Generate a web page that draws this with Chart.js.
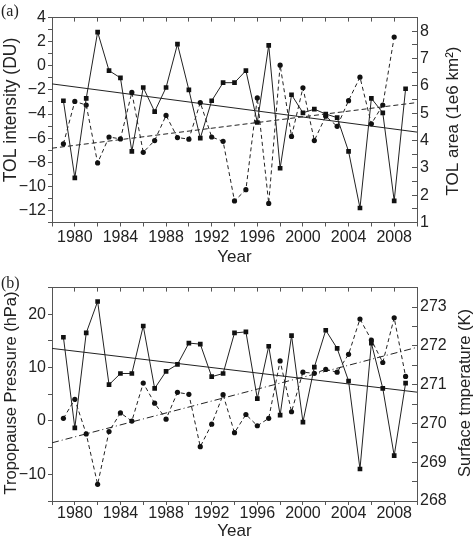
<!DOCTYPE html>
<html>
<head>
<meta charset="utf-8">
<script src="https://cdn.jsdelivr.net/npm/chart.js@4.4.0/dist/chart.umd.min.js"></script>
<style>
  body { margin: 0; background: #fff; width: 475px; height: 538px; position: relative; overflow: hidden; }
  .panel { position: absolute; left: 0; width: 475px; height: 270px; }
  #panelA { top: 0; }
  #panelB { top: 270px; }
  .tag { position: absolute; left: 1px; font: 16px "Liberation Serif", "Times New Roman", serif; line-height: 16px; color: #222; }
</style>
</head>
<body>
<div class="panel" id="panelA"><canvas id="chartA" width="475" height="270"></canvas></div>
<div class="panel" id="panelB"><canvas id="chartB" width="475" height="270"></canvas></div>
<div class="tag" style="top:3px">(a)</div>
<div class="tag" style="top:275px">(b)</div>
<script>
// years shared by both panels
const years = [1979, 1980, 1981, 1982, 1983, 1984, 1985, 1986, 1987, 1988, 1989, 1990, 1991, 1992, 1993, 1994,
               1995, 1996, 1997, 1998, 1999, 2000, 2001, 2002, 2003, 2004, 2005, 2006, 2007, 2008, 2009];

// (a) TOL intensity (DU), squares, left axis
const tolIntensity = [-2.9, -9.3, -2.7, 2.8, -0.4, -1.0, -7.1, -1.8, -3.8, -1.8, 1.8, -2.0, -6.0, -2.9, -1.4, -1.4,
                      -0.4, -4.7, 1.7, -8.5, -2.4, -3.9, -3.6, -4.0, -4.3, -7.1, -11.8, -2.7, -3.9, -11.2, -1.9];
// (a) TOL area (1e6 km2), circles, right axis (no value for 2009)
const tolArea = [3.88, 5.43, 5.30, 3.18, 4.13, 4.06, 5.76, 3.57, 4.00, 4.92, 4.11, 4.05, 5.39, 4.13, 3.97, 1.79,
                 2.20, 5.56, 1.70, 6.76, 4.15, 5.93, 4.00, 4.89, 4.52, 5.46, 6.32, 4.61, 5.30, 7.79, null];
// trend lines read at the plot edges
const trendYears = [1978, 2010];
const intensityTrend = [-1.5, -5.5];
const areaTrend = [3.72, 5.39];

// (b) tropopause pressure (hPa), squares, left axis
const tropPressure = [15.7, -1.3, 16.5, 22.4, 6.8, 8.9, 8.9, 17.8, 6.1, 9.3, 10.6, 14.6, 14.4, 8.3, 8.9, 16.5,
                      16.7, 4.2, 14.0, 1.1, 16.0, -0.2, 10.1, 17.0, 13.6, 7.5, -9.0, 14.6, 6.1, -6.5, 7.1];
// (b) surface temperature (K), circles, right axis
const surfTemp = [270.13, 270.62, 269.73, 268.43, 269.79, 270.27, 270.06, 271.04, 270.52, 270.11, 270.80, 270.75,
                  269.40, 269.98, 270.74, 269.76, 270.23, 269.94, 270.13, 271.61, 270.30, 271.32, 271.29, 271.39,
                  271.32, 271.78, 272.69, 272.15, 271.57, 272.72, 271.21];
const pressureTrend = [13.6, 5.4];
const tempTrend = [269.5, 271.96];

// labelled ticks
const yearTicks = [1980, 1984, 1988, 1992, 1996, 2000, 2004, 2008];
const intensityTicks = [-12, -10, -8, -6, -4, -2, 0, 2, 4];
const areaTicks = [1, 2, 3, 4, 5, 6, 7, 8];
const pressureTicks = [-10, 0, 10, 20];
const tempTicks = [268, 269, 270, 271, 272, 273];

const FONT = '"Liberation Sans", Arial, Helvetica, sans-serif';
const INK = '#222';
const AXIS = '#555';

// tick list with unlabelled minor ticks in between
function tickList(major, step, min, max) {
  const out = [];
  for (let v = min; v <= max + 1e-9; v += step) out.push({ value: Math.round(v * 1000) / 1000 });
  return out;
}
function fmt(major) {
  return v => major.includes(v) ? (v < 0 ? '\u2212' + Math.abs(v) : String(v)) : '';
}

// side titles, rotated to read bottom-to-top on both sides
const sideTitles = {
  id: 'sideTitles',
  afterDraw(chart, args, opts) {
    const { ctx } = chart;
    opts.items.forEach(t => {
      ctx.save();
      ctx.translate(t.x, t.y);
      ctx.rotate(-Math.PI / 2);
      ctx.font = t.size + 'px ' + FONT;
      ctx.fillStyle = INK;
      ctx.textAlign = 'center';
      ctx.textBaseline = 'middle';
      ctx.fillText(t.text, 0, 0);
      ctx.restore();
    });
  }
};

function pts(xs, ys) {
  return xs.map((x, i) => ({ x: x, y: ys[i] }));
}

function makeChart(id, cfg) {
  const xTickList = tickList(yearTicks, 2, 1978, 2010);
  return new Chart(document.getElementById(id), {
    type: 'line',
    data: {
      datasets: [
        { data: pts(years, cfg.sq), yAxisID: 'y', borderColor: INK, borderWidth: 1,
          pointStyle: 'rect', pointRadius: 3.3, pointBackgroundColor: '#111', pointBorderWidth: 0 },
        { data: pts(years, cfg.ci), yAxisID: 'y2', borderColor: INK, borderWidth: 1, borderDash: [4, 3],
          pointStyle: 'circle', pointRadius: 2.6, pointBackgroundColor: '#111', pointBorderWidth: 0 },
        { data: pts(trendYears, cfg.sqTrend), yAxisID: 'y', borderColor: INK, borderWidth: 1, pointRadius: 0 },
        { data: pts(trendYears, cfg.ciTrend), yAxisID: 'y2', borderColor: INK, borderWidth: 1,
          borderDash: cfg.ciDash, pointRadius: 0 }
      ]
    },
    options: {
      responsive: false,
      animation: false,
      events: [],
      layout: { padding: 0 },
      plugins: {
        legend: { display: false },
        tooltip: { enabled: false },
        sideTitles: { items: cfg.titles }
      },
      scales: {
        x: {
          type: 'linear', position: 'bottom', min: 1978, max: 2010,
          afterBuildTicks: s => { s.ticks = xTickList; },
          afterFit: s => { s.height = cfg.bottomH; },
          ticks: { callback: fmt(yearTicks), autoSkip: false, maxRotation: 0, padding: cfg.xPad,
                   color: INK, font: { family: FONT, size: 16 } },
          grid: { drawOnChartArea: false, tickLength: 4, color: AXIS },
          border: { color: AXIS, width: 1 },
          title: { display: true, text: 'Year', color: INK, font: { family: FONT, size: 17, lineHeight: 1 },
                   padding: { top: 0, bottom: cfg.yearPad } }
        },
        xTop: {
          type: 'linear', position: 'top', min: 1978, max: 2010,
          afterBuildTicks: s => { s.ticks = xTickList; },
          afterFit: s => { s.height = cfg.topH; },
          ticks: { display: false },
          grid: { drawOnChartArea: false, tickLength: -4, color: AXIS },
          border: { color: AXIS, width: 1 }
        },
        y: {
          position: 'left', min: cfg.yMin, max: cfg.yMax,
          afterBuildTicks: s => { s.ticks = tickList(cfg.yTicks, cfg.yStep, cfg.yMin, cfg.yMax); },
          afterFit: s => { s.width = 52; },
          ticks: { callback: fmt(cfg.yTicks), autoSkip: false, padding: 2, color: INK, font: { family: FONT, size: 16 } },
          grid: { drawOnChartArea: false, tickLength: 4, color: AXIS },
          border: { color: AXIS, width: 1 }
        },
        y2: {
          position: 'right', min: cfg.y2Min, max: cfg.y2Max,
          afterBuildTicks: s => { s.ticks = tickList(cfg.y2Ticks, 0.5, cfg.y2Min, cfg.y2Max); },
          afterFit: s => { s.width = 58; },
          ticks: { callback: fmt(cfg.y2Ticks), autoSkip: false, padding: 8, color: INK, font: { family: FONT, size: 16 } },
          grid: { drawOnChartArea: false, tickLength: -5, color: AXIS },
          border: { color: AXIS, width: 1 }
        }
      }
    },
    plugins: [sideTitles]
  });
}

makeChart('chartA', {
  sq: tolIntensity, ci: tolArea, sqTrend: intensityTrend, ciTrend: areaTrend, ciDash: [5, 3],
  yMin: -13, yMax: 4, yTicks: intensityTicks, yStep: 1,
  y2Min: 1, y2Max: 8.5, y2Ticks: areaTicks,
  topH: 7, bottomH: 47.5, xPad: 1, yearPad: 4.5,
  titles: [
    { text: 'TOL intensity (DU)', x: 11, y: 110, size: 17.5 },
    { text: 'TOL area (1e6 km\u00b2)', x: 453, y: 121, size: 17 }
  ]
});

makeChart('chartB', {
  sq: tropPressure, ci: surfTemp, sqTrend: pressureTrend, ciTrend: tempTrend, ciDash: [7, 3, 1, 3],
  yMin: -15, yMax: 25, yTicks: pressureTicks, yStep: 5,
  y2Min: 268, y2Max: 273.5, y2Ticks: tempTicks,
  topH: 15, bottomH: 39, xPad: -1, yearPad: 0,
  titles: [
    { text: 'Tropopause Pressure (hPa)', x: 11, y: 123, size: 16.5 },
    { text: 'Surface tmperature (K)', x: 465, y: 123, size: 16.5 }
  ]
});
</script>
</body>
</html>
